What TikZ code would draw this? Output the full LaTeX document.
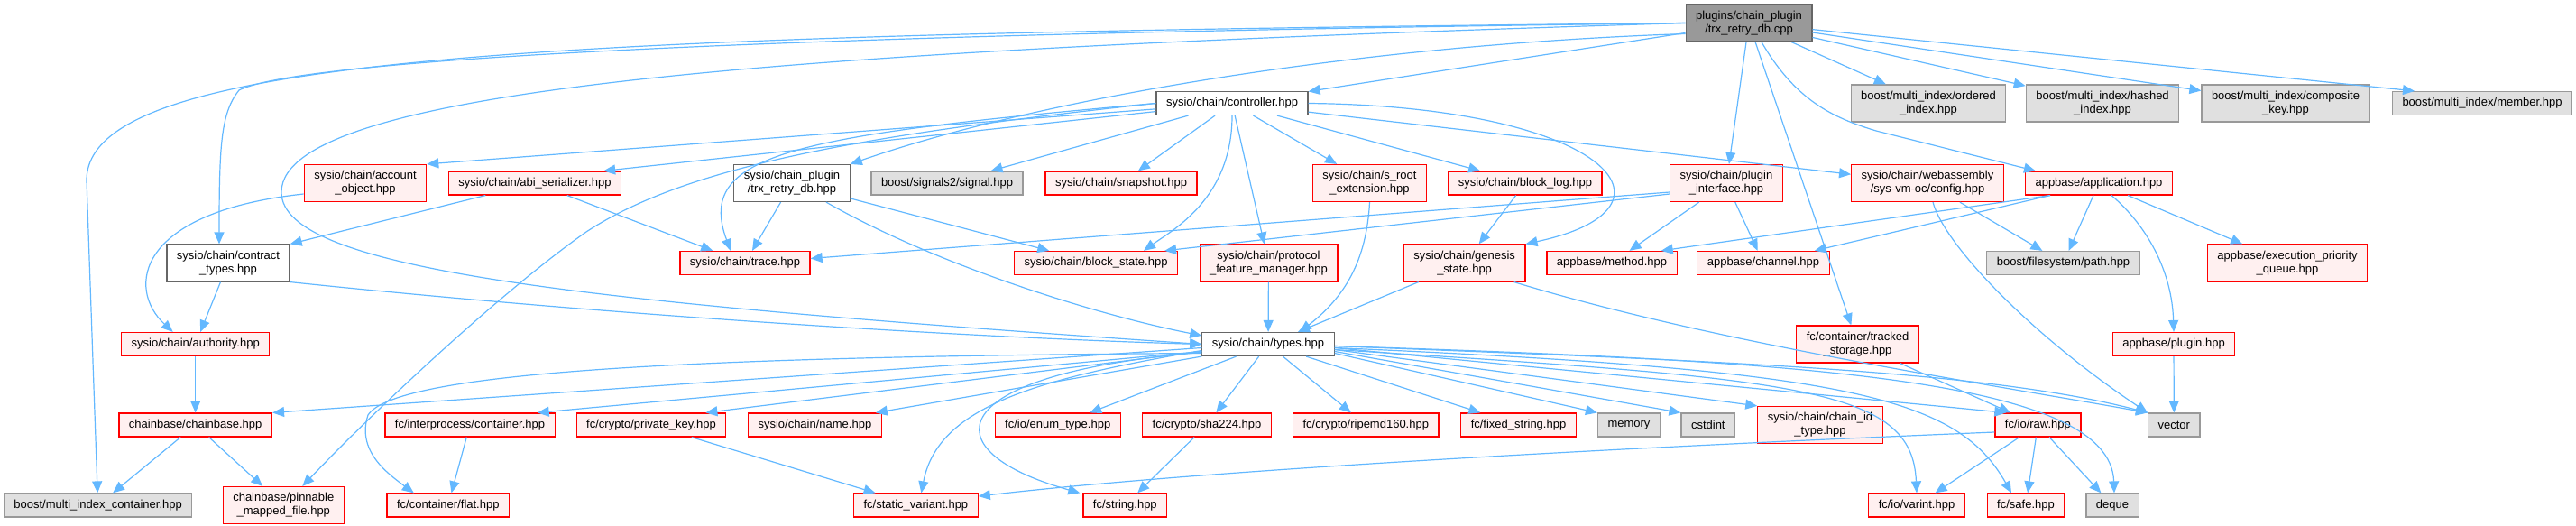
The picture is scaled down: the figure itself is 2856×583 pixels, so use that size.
\documentclass[tikz,border=0pt]{standalone}
\usepackage{fontspec}
\setmainfont{Liberation Sans}
\usepackage{tikz}
\usetikzlibrary{arrows.meta}
\definecolor{inclblue}{HTML}{63B8FF}
\definecolor{undocfill}{HTML}{FFF0F0}
\definecolor{extfill}{HTML}{E0E0E0}
\definecolor{extline}{HTML}{999999}
\definecolor{docline}{HTML}{666666}
\definecolor{topfill}{HTML}{999999}
\tikzset{
  hdr/.style={draw=docline, fill=white, line width=1.2pt, inner xsep=11pt, inner ysep=2pt, minimum height=26pt, align=center, font=\fontsize{13}{15}\selectfont},
  hdrTop/.style={hdr, fill=topfill},
  hdrR/.style={hdr, draw=red, fill=undocfill},
  hdrX/.style={hdr, draw=extline, fill=extfill},
  tall/.style={minimum height=41pt},
  incl/.style={-{Triangle[length=13pt,width=11pt]}, line width=1.2pt, inclblue},
}

\begin{document}
\begin{tikzpicture}[x=1pt, y=1pt]
\useasboundingbox (0,0) rectangle (2856,-583);
% --- row 1: the source file ---
\node[hdrTop, tall] (top) at (1939,-25.5) {plugins/chain\_plugin\\/trx\_retry\_db.cpp};
% --- row 2 ---
\node[hdr] (ctrl) at (1366,-114.5) {sysio/chain/controller.hpp};
\node[hdrX, tall] (ordidx) at (2138,-114.5) {boost/multi\_index/ordered\\\_index.hpp};
\node[hdrX, tall] (hashidx) at (2331,-114.5) {boost/multi\_index/hashed\\\_index.hpp};
\node[hdrX, tall] (compkey) at (2534,-114.5) {boost/multi\_index/composite\\\_key.hpp};
\node[hdrX] (member) at (2752,-114.5) {boost/multi\_index/member.hpp};
% --- row 3 ---
\node[hdrR, tall] (acct) at (405,-203) {sysio/chain/account\\\_object.hpp};
\node[hdrR] (abiser) at (593,-203) {sysio/chain/abi\_serializer.hpp};
\node[hdr, tall] (trxhpp) at (878,-203) {sysio/chain\_plugin\\/trx\_retry\_db.hpp};
\node[hdrX] (signal) at (1050,-203) {boost/signals2/signal.hpp};
\node[hdrR] (snapshot) at (1243,-203) {sysio/chain/snapshot.hpp};
\node[hdrR, tall] (sroot) at (1518.5,-203) {sysio/chain/s\_root\\\_extension.hpp};
\node[hdrR] (blocklog) at (1691,-203) {sysio/chain/block\_log.hpp};
\node[hdrR, tall] (pluginif) at (1914,-203) {sysio/chain/plugin\\\_interface.hpp};
\node[hdrR, tall] (wasmcfg) at (2137,-203) {sysio/chain/webassembly\\/sys-vm-oc/config.hpp};
\node[hdrR] (app) at (2327,-203) {appbase/application.hpp};
% --- row 4 ---
\node[hdr, tall] (contract) at (253,-291.5) {sysio/chain/contract\\\_types.hpp};
\node[hdrR] (trace) at (826,-291.5) {sysio/chain/trace.hpp};
\node[hdrR] (blockstate) at (1215,-291.5) {sysio/chain/block\_state.hpp};
\node[hdrR, tall] (protofeat) at (1406.5,-291.5) {sysio/chain/protocol\\\_feature\_manager.hpp};
\node[hdrR, tall] (genesis) at (1623.6,-291.5) {sysio/chain/genesis\\\_state.hpp};
\node[hdrR] (method) at (1787,-291.5) {appbase/method.hpp};
\node[hdrR] (channel) at (1955,-291.5) {appbase/channel.hpp};
\node[hdrX] (fspath) at (2287.5,-291.5) {boost/filesystem/path.hpp};
\node[hdrR, tall] (execq) at (2536,-291.5) {appbase/execution\_priority\\\_queue.hpp};
% --- row 5 ---
\node[hdrR] (authority) at (216.7,-381.5) {sysio/chain/authority.hpp};
\node[hdr] (types) at (1406,-381.5) {sysio/chain/types.hpp};
\node[hdrR, tall] (tracked) at (2059.5,-381.5) {fc/container/tracked\\\_storage.hpp};
\node[hdrR] (plugin) at (2410,-381.5) {appbase/plugin.hpp};
% --- row 6 ---
\node[hdrR] (chainbase) at (216.7,-471) {chainbase/chainbase.hpp};
\node[hdrR] (ipcont) at (521,-471) {fc/interprocess/container.hpp};
\node[hdrR] (privkey) at (722,-471) {fc/crypto/private\_key.hpp};
\node[hdrR] (chname) at (903.4,-471) {sysio/chain/name.hpp};
\node[hdrR] (enumtype) at (1172.7,-471) {fc/io/enum\_type.hpp};
\node[hdrR] (sha) at (1338,-471) {fc/crypto/sha224.hpp};
\node[hdrR] (ripemd) at (1514.3,-471) {fc/crypto/ripemd160.hpp};
\node[hdrR] (fixedstr) at (1683.5,-471) {fc/fixed\_string.hpp};
\node[hdrX] (memory) at (1806,-471) {memory};
\node[hdrX] (cstdint) at (1893.8,-471) {cstdint};
\node[hdrR, tall] (chainid) at (2018,-471) {sysio/chain/chain\_id\\\_type.hpp};
\node[hdrR] (raw) at (2259.4,-471) {fc/io/raw.hpp};
\node[hdrX] (vector) at (2410.3,-471) {vector};
% --- row 7 ---
\node[hdrX] (mic) at (108.6,-560) {boost/multi\_index\_container.hpp};
\node[hdrR, tall] (pinnable) at (314.3,-560) {chainbase/pinnable\\\_mapped\_file.hpp};
\node[hdrR] (flat) at (496.8,-560) {fc/container/flat.hpp};
\node[hdrR] (staticvar) at (1015.4,-560) {fc/static\_variant.hpp};
\node[hdrR] (fcstring) at (1247.3,-560) {fc/string.hpp};
\node[hdrR] (varint) at (2125,-560) {fc/io/varint.hpp};
\node[hdrR] (safe) at (2246,-560) {fc/safe.hpp};
\node[hdrX] (deque) at (2342,-560) {deque};

% --- includes of the source file ---
\draw[incl] (top.west) .. controls (600,-38) and (96,-60) .. (96,-200) -- (mic);
\draw[incl] (top.west) .. controls (700,-40) and (320,-72) .. (265,-100) .. controls (245,-125) and (243,-160) .. ([xshift=-10pt]contract.north);
\draw[incl] (top.west) .. controls (900,-55) and (312,-95) .. (312,-213) .. controls (312,-300) and (650,-335) .. (types.west);
\draw[incl] (top) -- (ctrl);
\draw[incl] ([yshift=-12pt]top.west) .. controls (1500,-50) and (1150,-110) .. (trxhpp.north east);
\draw[incl] (top) -- (pluginif);
\draw[incl] (top) -- (tracked);
\draw[incl] ([xshift=14pt]top.south) .. controls (1990,-110) and (2030,-130) .. (2080,-145) -- ([xshift=12pt]app.north west);
\draw[incl] (top) -- (ordidx);
\draw[incl] (top) -- (hashidx);
\draw[incl] (top) -- (compkey);
\draw[incl] (top) -- ([xshift=-75pt]member.north);
% --- controller.hpp ---
\draw[incl] (ctrl) -- (acct.north east);
\draw[incl] (ctrl) -- ([xshift=-20pt]abiser.north east);
\draw[incl] (ctrl.west) .. controls (950,-150) and (760,-185) .. (650,-257) .. controls (560,-320) and (420,-450) .. ([xshift=21pt]pinnable.north);
\draw[incl] (ctrl.west) .. controls (880,-150) and (770,-170) .. ([xshift=-16pt]trace.north);
\draw[incl] (ctrl) -- (signal);
\draw[incl] (ctrl) -- (snapshot);
\draw[incl] (ctrl.south) .. controls (1366,-220) and (1300,-255) .. ([xshift=53pt]blockstate.north);
\draw[incl] (ctrl) -- (protofeat);
\draw[incl] (ctrl) -- (sroot);
\draw[incl] (ctrl) -- (blocklog);
\draw[incl] (ctrl.east) .. controls (1780,-118) and (1880,-230) .. (genesis.north east);
\draw[incl] (ctrl) -- (wasmcfg);
% --- row 3 headers ---
\draw[incl] ([yshift=-12pt]acct.west) .. controls (150,-235) and (140,-320) .. ([xshift=-25pt]authority.north);
\draw[incl] (abiser) -- (contract.north east);
\draw[incl] (abiser) -- (trace);
\draw[incl] (trxhpp) -- (trace);
\draw[incl] (trxhpp) -- (blockstate);
\draw[incl] ([xshift=38pt]trxhpp.south) .. controls (1040,-295) and (1220,-350) .. ([yshift=-4pt]types.north west);
\draw[incl] (sroot.south) .. controls (1515,-290) and (1490,-330) .. ([xshift=35pt]types.north);
\draw[incl] (blocklog) -- (genesis);
\draw[incl] ([yshift=-10pt]pluginif.west) -- ([yshift=5pt]trace.east);
\draw[incl] ([yshift=-12pt]pluginif.west) -- ([xshift=-15pt]blockstate.north east);
\draw[incl] (pluginif) -- (method);
\draw[incl] (pluginif) -- (channel);
\draw[incl] (wasmcfg) -- (fspath);
\draw[incl] ([xshift=6pt]wasmcfg.south) .. controls (2155,-270) and (2250,-370) .. (vector.north west);
\draw[incl] ([xshift=-54pt]app.south) -- ([xshift=-18pt]method.north east);
\draw[incl] ([xshift=-54pt]app.south) -- ([xshift=-17pt]channel.north east);
\draw[incl] (app) -- (fspath);
\draw[incl] ([xshift=14pt]app.south) .. controls (2380,-250) and (2408,-300) .. (plugin.north);
\draw[incl] (app) -- (execq);
% --- row 4 headers ---
\draw[incl] (contract) -- (authority);
\draw[incl] (contract.south east) .. controls (700,-352) and (1100,-375) .. (types.west);
\draw[incl] (genesis) -- (types);
\draw[incl] ([xshift=55pt]genesis.south) .. controls (1900,-380) and (2200,-425) .. (vector.north west);
\draw[incl] (protofeat) -- (types);
% --- row 5 and below ---
\draw[incl] (authority) -- (chainbase);
\draw[incl] (tracked) -- (raw);
\draw[incl] (plugin) -- (vector);
\draw[incl] (chainbase) -- (mic);
\draw[incl] (chainbase) -- (pinnable);
\draw[incl] (ipcont) -- (flat);
\draw[incl] (privkey) -- (staticvar);
\draw[incl] (sha) -- (fcstring);
\draw[incl] ([yshift=-8pt]raw.west) .. controls (1700,-500) and (1300,-525) .. ([yshift=10pt]staticvar.east);
\draw[incl] (raw) -- (varint);
\draw[incl] (raw) -- (safe);
\draw[incl] (raw) -- (deque);
% --- types.hpp ---
\draw[incl] ([yshift=-4pt]types.west) -- (chainbase.north east);
\draw[incl] ([yshift=-8pt]types.west) -- ([xshift=-20pt]ipcont.north east);
\draw[incl] ([yshift=-8pt]types.west) -- ([xshift=-23pt]privkey.north east);
\draw[incl] (types.south west) -- ([xshift=-7pt]chname.north east);
\draw[incl] ([yshift=-7pt]types.west) .. controls (1150,-420) and (1040,-450) .. ([xshift=6pt]staticvar.north);
\draw[incl] ([yshift=-9pt]types.west) .. controls (1040,-415) and (1030,-500) .. ([xshift=-50pt]fcstring.north);
\draw[incl] ([yshift=-10pt]types.west) .. controls (800,-395) and (440,-410) .. (408,-460) .. controls (395,-500) and (430,-525) .. ([xshift=-38pt]flat.north);
\draw[incl] (types) -- (enumtype);
\draw[incl] (types) -- (sha);
\draw[incl] (types) -- (ripemd);
\draw[incl] (types) -- (fixedstr);
\draw[incl] ([yshift=-10pt]types.east) -- (memory.north west);
\draw[incl] ([yshift=-8pt]types.east) -- (cstdint.north west);
\draw[incl] ([yshift=-6pt]types.east) -- (chainid.north west);
\draw[incl] ([yshift=-4pt]types.east) -- ([xshift=13pt]raw.north west);
\draw[incl] ([yshift=-2pt]types.east) .. controls (1900,-400) and (2200,-410) .. (vector.north west);
\draw[incl] ([yshift=-6pt]types.east) .. controls (2000,-420) and (2120,-430) .. (varint.north);
\draw[incl] ([yshift=-4pt]types.east) .. controls (2050,-410) and (2170,-440) .. ([xshift=-16pt]safe.north);
\draw[incl] ([yshift=-2pt]types.east) .. controls (2000,-400) and (2340,-420) .. ([xshift=2pt]deque.north);
\end{tikzpicture}
\end{document}
